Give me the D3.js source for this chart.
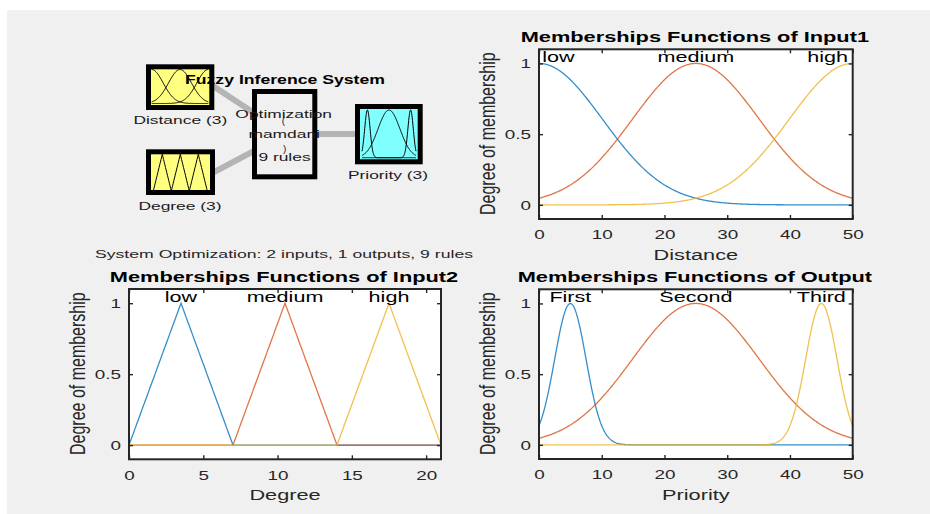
<!DOCTYPE html>
<html>
<head>
<meta charset="utf-8">
<script src="https://cdn.jsdelivr.net/npm/d3@7/dist/d3.min.js"></script>
<style>
  body { margin: 0; background: #fff; }
  svg { display: block; }
  text { font-family: "Liberation Sans", Arial, Helvetica, sans-serif; }
</style>
</head>
<body>
<svg id="fig" width="930" height="514"></svg>
<script>
// ---- Input 1: Distance (gaussian MFs, [sigma, center]) ----
const distRange = [0, 50];
const distNames = ["low", "medium", "high"];
const distParams = [[10.1, 0], [10.1, 25], [10.1, 50]];
const distLabelX = [3.1, 25, 46];
const distTicks = [0, 10, 20, 30, 40, 50];

// ---- Input 2: Degree (triangular MFs, [a, b, c]) ----
const degRange = [0, 21];
const degNames = ["low", "medium", "high"];
const degParams = [[0, 3.5, 7], [7, 10.5, 14], [14, 17.5, 21]];
const degLabelX = [3.5, 10.5, 17.5];
const degTicks = [0, 5, 10, 15, 20];

// ---- Output: Priority (gaussian MFs, [sigma, center]) ----
const priRange = [0, 50];
const priNames = ["First", "Second", "Third"];
const priParams = [[2.5, 5], [10.1, 25], [2.5, 45]];
const priLabelX = [5, 25, 45];
const priTicks = [0, 10, 20, 30, 40, 50];

// shared membership axis
const yTicks = [0, 0.5, 1];
const yTickLabels = ["0", "0.5", "1"];
const mfColors = ["#0072BD", "#D95319", "#EDB120"];

// FIS summary
const fisName = "Optimization";
const fisType = "mamdani";
const nInputs = 2;
const nOutputs = 1;
const nRules = 9;

// membership function evaluators
const gaussmf = (x, p) => Math.exp(-((x - p[1]) ** 2) / (2 * p[0] * p[0]));
const trimf = (x, p) => Math.max(Math.min((x - p[0]) / (p[1] - p[0]), (p[2] - x) / (p[2] - p[1])), 0);

function samples(range, n) {
  return d3.range(n + 1).map(i => range[0] + (range[1] - range[0]) * i / n);
}

const svg = d3.select("#fig");
const INK = "#262626";

// stretch a text horizontally by factor k (glyphs and spacing)
function stretch(sel, k) {
  sel.each(function () {
    const w = this.getComputedTextLength();
    d3.select(this).attr("textLength", w * k).attr("lengthAdjust", "spacingAndGlyphs");
  });
  return sel;
}

// figure background
svg.append("rect").attr("x", 7).attr("y", 10).attr("width", 923).attr("height", 504).attr("fill", "#f0f0f0");

// ---------- membership function panels ----------
function panel(cfg) {
  const x = d3.scaleLinear().domain(cfg.range).range([cfg.left, cfg.right]);
  const y = d3.scaleLinear().domain([-0.1, 1.1]).range([cfg.bottom, cfg.top]);
  const g = svg.append("g");

  g.append("rect")
    .attr("x", cfg.left).attr("y", cfg.top)
    .attr("width", cfg.right - cfg.left).attr("height", cfg.bottom - cfg.top)
    .attr("fill", "#fff");

  const xs = samples(cfg.range, cfg.n);
  const line = d3.line().x(d => x(d[0])).y(d => y(d[1]));
  cfg.params.forEach((p, i) => {
    g.append("path")
      .datum(xs.map(v => [v, cfg.mf(v, p)]))
      .attr("d", line)
      .attr("fill", "none")
      .attr("stroke", mfColors[i])
      .attr("stroke-width", 1.3)
      .attr("stroke-opacity", 0.8);
  });

  // axes with inward ticks on all four sides
  const styleAxis = a => {
    a.select(".domain").remove();
    a.attr("font-family", null).attr("font-size", null);
    a.selectAll(".tick line").attr("stroke", INK).attr("stroke-width", 1.4);
    a.selectAll(".tick text").attr("fill", INK).style("font-size", "13px");
  };
  const ax = g.append("g").attr("transform", `translate(0,${cfg.bottom})`)
    .call(d3.axisBottom(x).tickValues(cfg.ticks).tickSize(-4).tickPadding(11).tickFormat(d3.format("d")));
  styleAxis(ax); stretch(ax.selectAll(".tick text"), 1.45);
  const axT = g.append("g").attr("transform", `translate(0,${cfg.top})`)
    .call(d3.axisTop(x).tickValues(cfg.ticks).tickSize(-4).tickFormat(""));
  styleAxis(axT);
  const ay = g.append("g").attr("transform", `translate(${cfg.left},0)`)
    .call(d3.axisLeft(y).tickValues(yTicks).tickSize(-4).tickPadding(8).tickFormat((d, i) => yTickLabels[i]));
  styleAxis(ay); stretch(ay.selectAll(".tick text"), 1.45);
  const ayR = g.append("g").attr("transform", `translate(${cfg.right},0)`)
    .call(d3.axisRight(y).tickValues(yTicks).tickSize(-4).tickFormat(""));
  styleAxis(ayR);

  // frame
  g.append("rect")
    .attr("x", cfg.left).attr("y", cfg.top)
    .attr("width", cfg.right - cfg.left).attr("height", cfg.bottom - cfg.top)
    .attr("fill", "none").attr("stroke", INK).attr("stroke-width", 2);

  // MF names
  cfg.names.forEach((nm, i) => {
    stretch(g.append("text")
      .attr("x", x(cfg.labelX[i])).attr("y", y(1) - 1.5)
      .attr("text-anchor", "middle").attr("fill", "#000")
      .style("font-size", "14px").text(nm), 1.54);
  });

  // title
  stretch(g.append("text")
    .attr("x", (cfg.left + cfg.right) / 2 - 1).attr("y", cfg.top - 7.5)
    .attr("text-anchor", "middle").attr("fill", "#000")
    .style("font-size", "14px").style("font-weight", "bold").text(cfg.title), 1.555);

  // x label
  stretch(g.append("text")
    .attr("x", (cfg.left + cfg.right) / 2).attr("y", cfg.bottom + 41)
    .attr("text-anchor", "middle").attr("fill", INK)
    .style("font-size", "14px").text(cfg.xLabel), 1.55);

  // y label
  g.append("text")
    .attr("transform", `translate(${cfg.left - 44},${(cfg.top + cfg.bottom) / 2 - 0.5}) scale(1.4,1) rotate(-90)`)
    .attr("text-anchor", "middle").attr("fill", INK)
    .style("font-size", "16px").text("Degree of membership");
}

panel({ left: 539, right: 852.7, top: 49.3, bottom: 219, range: distRange, n: 400,
  params: distParams, mf: gaussmf, names: distNames, labelX: distLabelX, ticks: distTicks,
  title: "Memberships Functions of Input1", xLabel: "Distance" });
panel({ left: 129, right: 441, top: 289, bottom: 459.3, range: degRange, n: 420,
  params: degParams, mf: trimf, names: degNames, labelX: degLabelX, ticks: degTicks,
  title: "Memberships Functions of Input2", xLabel: "Degree" });
panel({ left: 539, right: 852.7, top: 289.3, bottom: 459, range: priRange, n: 400,
  params: priParams, mf: gaussmf, names: priNames, labelX: priLabelX, ticks: priTicks,
  title: "Memberships Functions of Output", xLabel: "Priority" });

// ---------- FIS structure diagram ----------
const fis = svg.append("g");

// connectors (behind the blocks)
const conn = [
  [[205, 80.7], [262, 118.2]],
  [[205, 176.9], [262, 146.8]],
  [[310, 134], [362, 134]]
];
conn.forEach(c => fis.append("line")
  .attr("x1", c[0][0]).attr("y1", c[0][1]).attr("x2", c[1][0]).attr("y2", c[1][1])
  .attr("stroke", "#b4b4b4").attr("stroke-width", 6));

function block(x0, y0, x1, y1, fill) {
  fis.append("rect").attr("x", x0).attr("y", y0).attr("width", x1 - x0).attr("height", y1 - y0).attr("fill", "#000");
  fis.append("rect").attr("x", x0 + 5).attr("y", y0 + 5).attr("width", x1 - x0 - 10).attr("height", y1 - y0 - 10).attr("fill", fill);
}
function icon(range, params, mf, xr, yr, n) {
  const x = d3.scaleLinear().domain(range).range(xr);
  const y = d3.scaleLinear().domain([0, 1]).range(yr);
  const xs = samples(range, n);
  const line = d3.line().x(d => x(d[0])).y(d => y(d[1]));
  params.forEach(p => fis.append("path")
    .datum(xs.map(v => [v, mf(v, p)]))
    .attr("d", line).attr("fill", "none").attr("stroke", "#000").attr("stroke-width", 1));
}

block(146, 64.3, 214.3, 110, "#ffff80");
icon(distRange, distParams, gaussmf, [151.7, 208.3], [103.5, 69.5], 120);
block(146, 149.3, 215, 195, "#ffff80");
icon(degRange, degParams, trimf, [153.3, 207.3], [191, 154.3], 84);
block(252, 89, 317.3, 179.3, "#f0f0f0");
block(355, 104, 422.7, 164.3, "#80ffff");
icon(priRange, priParams, gaussmf, [362, 416], [157.7, 110], 200);

function fisText(txt, x, y, size, k, bold, anchor) {
  const t = fis.append("text").attr("x", x).attr("y", y)
    .attr("text-anchor", anchor || "middle").attr("fill", "#1a1a1a")
    .style("font-size", size + "px").text(txt);
  if (bold) t.style("font-weight", "bold").attr("fill", "#000");
  stretch(t, k);
  return t;
}

fisText("Distance (3)", 180.3, 124, 11.6, 1.5);
fisText("Degree (3)", 180, 210, 11.6, 1.5);
fisText("Priority (3)", 388, 179, 11.6, 1.5);
fisText(fisName, 283.7, 117.7, 11.6, 1.5);
fisText("(", 283.3, 124, 9, 1.1);
fisText(fisType, 284.2, 138.3, 11.6, 1.5);
fisText(")", 284.7, 152, 9, 1.1);
fisText(`${nRules} rules`, 284.5, 161, 11.6, 1.5);
fisText("Fuzzy Inference System", 285, 84.3, 12, 1.47, true);

// summary line
svg.append("text").attr("x", 95).attr("y", 258.3).attr("fill", INK)
  .style("font-size", "11.5px")
  .attr("textLength", 378).attr("lengthAdjust", "spacingAndGlyphs")
  .text(`System ${fisName}: ${nInputs} inputs, ${nOutputs} outputs, ${nRules} rules`);
</script>
</body>
</html>
